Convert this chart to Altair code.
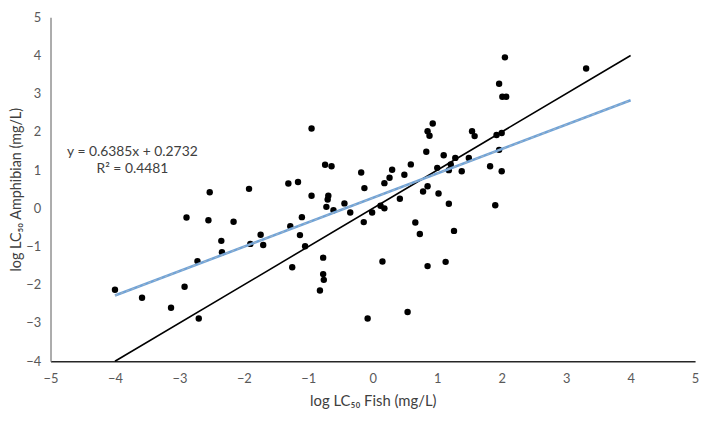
import altair as alt
import pandas as pd

# log LC50 Fish (mg/L)
fish = [-2.53, -2.89, -2.55, -2.35, -2.34, -2.72, -4.00, -2.92, -3.58, -3.13, -2.70,
        -0.95, -0.74, -0.64, -0.18, -1.92, -1.31, -1.16, -0.13, -0.95, -0.69, -0.70,
        -0.72, -0.61, -0.44, -0.35, -0.14, -0.01, -2.16, -1.74, -1.90, -1.70, -1.28,
        -1.10, -1.13, -1.05, -1.25, -0.77, -0.77, -0.76, -0.82, -0.08,
        0.93, 0.85, 0.88, 1.54, 1.58, 1.92, 2.00, 0.83, 1.10, 1.28, 1.49, 1.96, 1.82,
        2.00, 1.00, 1.21, 1.18, 1.38, 0.59, 0.30, 0.49, 0.26, 0.18, 0.85, 0.78, 1.02,
        0.42, 1.18, 1.90, 0.12, 0.18, 0.66, 0.73, 1.26, 0.15, 0.85, 1.13, 0.54,
        2.05, 3.31, 1.96, 2.01, 2.07]
# log LC50 Amphibian (mg/L)
amph = [0.42, -0.24, -0.31, -0.85, -1.15, -1.38, -2.13, -2.05, -2.34, -2.60, -2.88,
        2.09, 1.14, 1.10, 0.94, 0.51, 0.65, 0.69, 0.53, 0.33, 0.33, 0.23,
        0.04, -0.05, 0.13, -0.11, -0.36, -0.11, -0.35, -0.69, -0.93, -0.96, -0.47,
        -0.23, -0.70, -0.99, -1.54, -1.29, -1.72, -1.87, -2.15, -2.88,
        2.22, 2.02, 1.90, 2.02, 1.89, 1.92, 1.97, 1.48, 1.39, 1.32, 1.32, 1.53, 1.10,
        0.97, 1.06, 1.15, 1.00, 0.97, 1.15, 1.01, 0.88, 0.80, 0.66, 0.58, 0.44, 0.39,
        0.25, 0.12, 0.08, 0.07, 0.00, -0.37, -0.67, -0.59, -1.39, -1.51, -1.40, -2.71,
        3.95, 3.66, 3.26, 2.92, 2.92]

# reference 1:1 line and fitted trendline endpoints
line_x = [-4, 4]
slope = 0.6385
intercept = 0.2732
eq_lines = ["y = 0.6385x + 0.2732", "R\u00b2 = 0.4481"]

x_ticks = [-5, -4, -3, -2, -1, 0, 1, 2, 3, 4, 5]
y_ticks = [-4, -3, -2, -1, 0, 1, 2, 3, 4, 5]

pts = pd.DataFrame({"x": fish, "y": amph})
one2one = pd.DataFrame({"x": line_x, "y": line_x})
trend = pd.DataFrame({"x": line_x, "y": [slope * v + intercept for v in line_x]})

FONT = "Lato"
xs = alt.Scale(domain=[-5, 5], nice=False, zero=False)
ys = alt.Scale(domain=[-4, 5], nice=False, zero=False)

xaxis = alt.Axis(values=x_ticks, format="d", title="log LC\u2085\u2080 Fish (mg/L)", grid=False, ticks=False,
                 labelPadding=11, labelColor="#595959", labelFontSize=13, labelFont=FONT,
                 labelOverlap=False, labelFlush=False,
                 domainColor="#262626", domainWidth=1.3, titleFont=FONT, titleFontSize=15,
                 titleFontWeight="normal", titleColor="#404040", titlePadding=9)
yaxis = alt.Axis(values=y_ticks, format="d", tickCount=10, title="log LC\u2085\u2080  Amphibian (mg/L)",
                 grid=False, ticks=False,
                 labelPadding=10, labelColor="#595959", labelFontSize=13, labelFont=FONT,
                 labelOverlap=False, labelFlush=False, labelBound=False,
                 domainColor="#7f7f7f", domainWidth=1.3, titleFont=FONT, titleFontSize=14.5,
                 titleFontWeight="normal", titleColor="#404040", titlePadding=2)


def X():
    return alt.X("x:Q", scale=xs, axis=xaxis)


def Y():
    return alt.Y("y:Q", scale=ys, axis=yaxis)


points = alt.Chart(pts).mark_circle(size=42, color="black", opacity=1).encode(x=X(), y=Y())

line11 = alt.Chart(one2one).mark_line(color="black", strokeWidth=1.6).encode(x=X(), y=Y())

trend_blue = alt.Chart(trend).mark_line(color="#6fa3d8", strokeWidth=2.6).encode(x=X(), y=Y())
trend_dash = alt.Chart(trend).mark_line(color="#a9b4bf", strokeWidth=1.0, strokeDash=[3, 3]).encode(
    x=X(), y=Y())

eqdf = pd.DataFrame({"t": eq_lines, "x": [-3.73, -3.73], "y": [1.48, 1.04]})
eq = alt.Chart(eqdf).mark_text(
    font=FONT, fontSize=14, color="#404040", align="center", baseline="middle").encode(
    x=X(), y=Y(), text="t:N")

chart = alt.layer(points, line11, trend_blue, trend_dash, eq).properties(
    width=652, height=348,
    autosize=alt.AutoSizeParams(type="none"),
    padding={"left": 43, "top": 7, "right": 6, "bottom": 50},
).configure_view(stroke=None)

chart.save("out.html", embed_options={"renderer": "svg", "actions": False})
